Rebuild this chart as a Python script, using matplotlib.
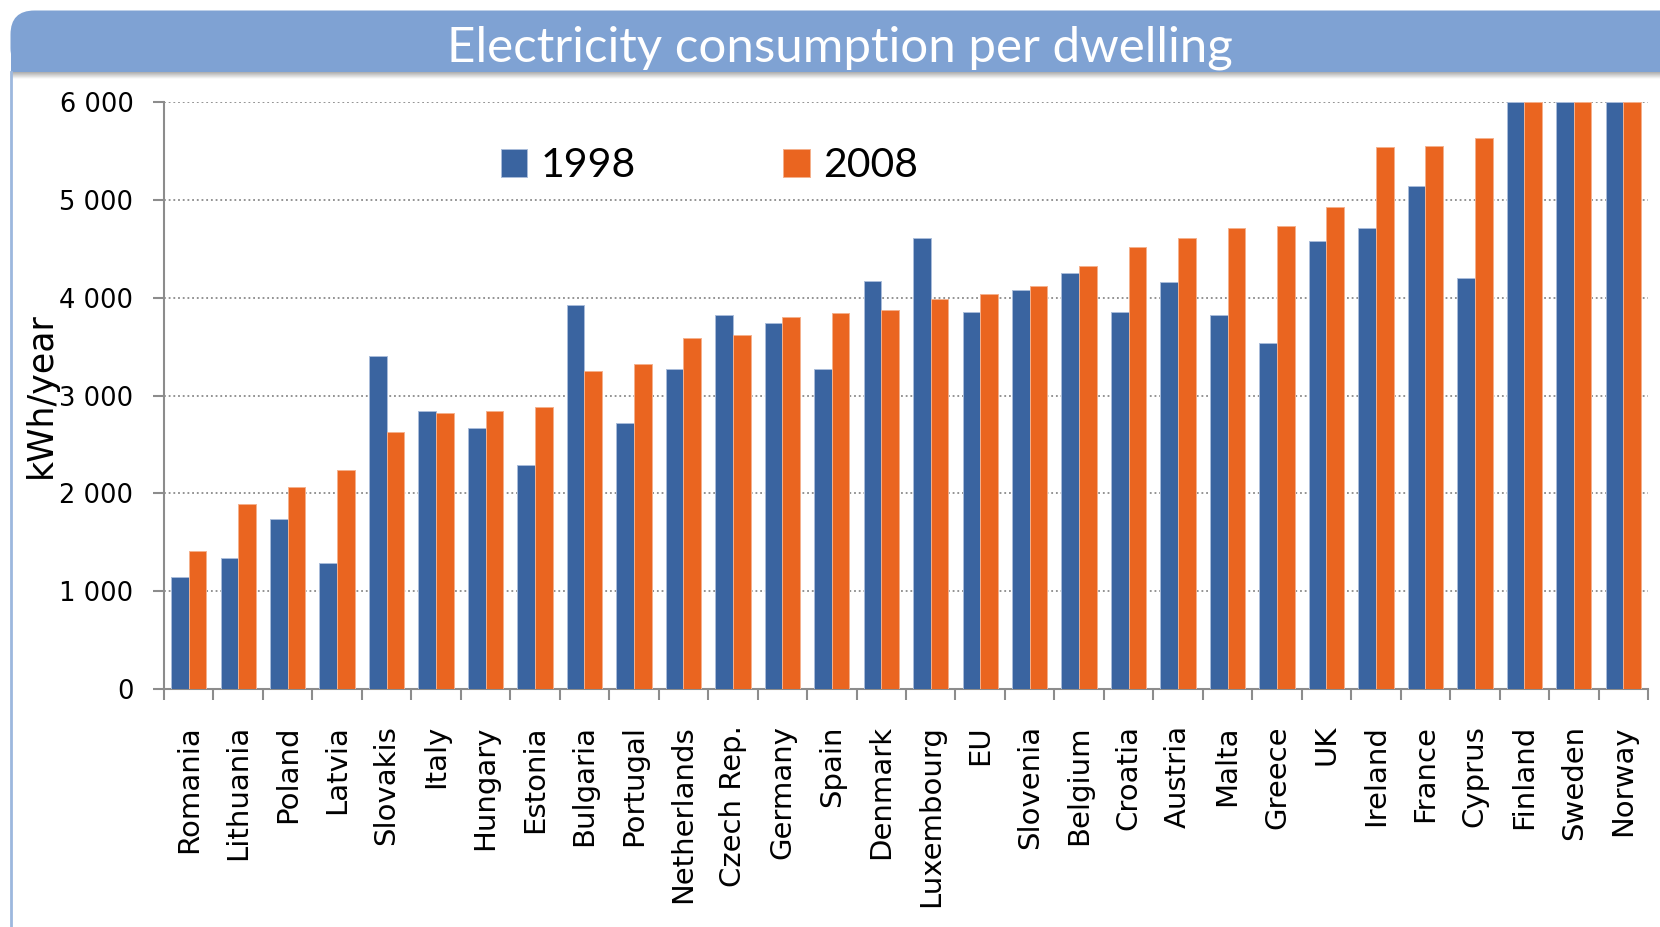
import matplotlib
matplotlib.use('Agg')
import matplotlib.pyplot as plt
import numpy as np
from matplotlib.patches import FancyBboxPatch, Rectangle

countries = ['Romania', 'Lithuania', 'Poland', 'Latvia', 'Slovakis', 'Italy', 'Hungary',
             'Estonia', 'Bulgaria', 'Portugal', 'Netherlands', 'Czech Rep.', 'Germany',
             'Spain', 'Denmark', 'Luxembourg', 'EU', 'Slovenia', 'Belgium', 'Croatia',
             'Austria', 'Malta', 'Greece', 'UK', 'Ireland', 'France', 'Cyprus',
             'Finland', 'Sweden', 'Norway']
v1998 = [1143, 1335, 1736, 1285, 3403, 2838, 2664, 2285, 3928, 2719, 3271, 3825, 3738,
         3269, 4169, 4612, 3855, 4079, 4248, 3852, 4159, 3822, 3539, 4581, 4712, 5145,
         4202, 6000, 6000, 6000]
v2008 = [1413, 1890, 2064, 2241, 2625, 2822, 2846, 2881, 3252, 3324, 3583, 3617, 3798,
         3844, 3874, 3987, 4040, 4121, 4322, 4516, 4605, 4709, 4732, 4930, 5545, 5554,
         5631, 6000, 6000, 6000]
series_labels = ['1998', '2008']
yticks = [0, 1000, 2000, 3000, 4000, 5000, 6000]
ytick_labels = ['0', '1 000', '2 000', '3 000', '4 000', '5 000', '6 000']
title = 'Electricity consumption per dwelling'
ylabel = 'kWh/year'

BLUE = '#3A64A0'
ORANGE = '#EA6520'
BAND = '#7FA2D3'
GRAY = '#8C8C8C'

W, H = 1660, 927
fig = plt.figure(figsize=(W / 100, H / 100), dpi=100)
fig.patch.set_facecolor('white')

# decorative background (pixel coordinates)
bg = fig.add_axes([0, 0, 1, 1], zorder=0)
bg.set_xlim(0, W)
bg.set_ylim(H, 0)
bg.axis('off')
band_top, band_bot, band_left = 10.5, 72, 10.5
bg.add_patch(FancyBboxPatch((band_left, band_top), W + 100, band_bot - band_top,
                            boxstyle='round,pad=0,rounding_size=24',
                            facecolor=BAND, edgecolor='none'))
bg.add_patch(Rectangle((band_left, (band_top + band_bot) / 2), W + 100,
                       (band_bot - band_top) / 2, facecolor=BAND, edgecolor='none'))
# shadow under band
grad = np.linspace(0.5, 0.0, 40).reshape(-1, 1)
shadow = np.zeros((40, 1, 4))
shadow[..., :3] = 0.35
shadow[..., 3] = grad
bg.imshow(shadow, extent=[band_left, W, band_bot + 7, band_bot], aspect='auto',
          interpolation='bilinear')
bg.plot([band_left + 0.5, band_left + 0.5], [band_bot, H], color='#9DB8DE', lw=2)

fig.text(840 / W, 1 - 61 / H, title, ha='center', va='baseline', color='white',
         fontsize=35.5, family=['Lato', 'DejaVu Sans'])

# main chart
ax = fig.add_axes([164 / W, (H - 689) / H, (1648 - 164) / W, (689 - 102) / H], zorder=1)
ax.patch.set_alpha(0)
x = np.arange(len(countries))
bw = 0.357
ax.bar(x - bw / 2, v1998, bw, color=BLUE, edgecolor='#A9BCDA', linewidth=0.7,
       label=series_labels[0], zorder=3)
ax.bar(x + bw / 2, v2008, bw, color=ORANGE, edgecolor='#F5B08C', linewidth=0.7,
       label=series_labels[1], zorder=3)
ax.set_xlim(-0.5, len(countries) - 0.5)
ax.set_ylim(0, 6000)
ax.set_yticks(yticks)
ax.set_yticklabels(ytick_labels)
ax.set_xticks(x)
ax.set_xticklabels(countries, rotation=90, va='top', ha='center')
ax.set_xticks(np.arange(-0.5, len(countries)), minor=True)
ax.tick_params(axis='x', which='major', length=0, pad=26, labelsize=21)
ax.tick_params(axis='x', which='minor', length=8, width=1.5, color=GRAY, direction='out')
ax.tick_params(axis='y', length=8, width=1.5, color=GRAY, pad=14, labelsize=18.5)
ax.grid(axis='y', color='#8A8A8A', linestyle=(0, (1, 1.6)), linewidth=1.3)
ax.set_axisbelow(True)
for s in ['top', 'right']:
    ax.spines[s].set_visible(False)
for s in ['left', 'bottom']:
    ax.spines[s].set_color(GRAY)
    ax.spines[s].set_linewidth(1.5)

ax.set_ylabel(ylabel, fontsize=25)
ax.yaxis.set_label_coords(-0.0714, 0.5)

ax.legend(loc='center left', bbox_to_anchor=(0.227, 0.891), ncol=2, frameon=False,
          prop={'family': ['Lato', 'DejaVu Sans'], 'size': 29.5},
          handlelength=0.65, handleheight=0.65, handletextpad=0.32,
          columnspacing=3.6, borderpad=0, borderaxespad=0)

fig.savefig('out.png', dpi=100)
